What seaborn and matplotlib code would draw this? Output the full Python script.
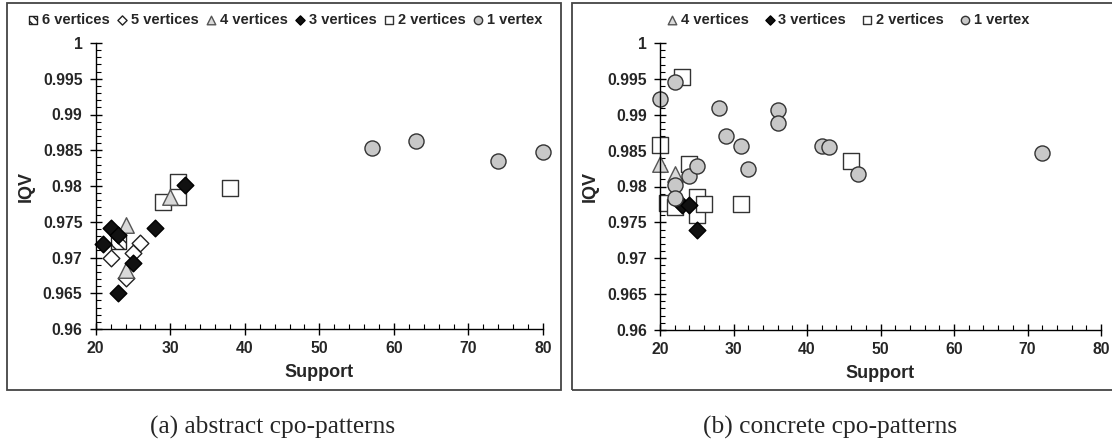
import numpy as np
import pandas as pd
import matplotlib
matplotlib.use("Agg")
import matplotlib.pyplot as plt
import matplotlib.ticker as mticker
from matplotlib.patches import Rectangle
import seaborn as sns

sns.set_style("white")
plt.rcParams["font.family"] = ["Liberation Sans", "DejaVu Sans"]
plt.rcParams["font.weight"] = "bold"
plt.rcParams["hatch.linewidth"] = 1.0

# ---------------- data: (a) abstract cpo-patterns ----------------
a_six_x = [23]
a_six_y = [0.9722]
a_five_x = [22, 24, 25, 26]
a_five_y = [0.9700, 0.9672, 0.9706, 0.9720]
a_four_x = [24, 24, 30]
a_four_y = [0.9745, 0.9682, 0.9785]
a_three_x = [21, 22, 23, 23, 25, 28, 32]
a_three_y = [0.9719, 0.9741, 0.9731, 0.9650, 0.9693, 0.9741, 0.9802]
a_two_x = [29, 31, 31, 38]
a_two_y = [0.9778, 0.9806, 0.9785, 0.9797]
a_one_x = [57, 63, 74, 80]
a_one_y = [0.9853, 0.9863, 0.9835, 0.9848]

# ---------------- data: (b) concrete cpo-patterns ----------------
b_four_x = [20, 22]
b_four_y = [0.9832, 0.9818]
b_three_x = [23, 24, 25]
b_three_y = [0.9774, 0.9774, 0.9740]
b_two_x = [20, 21, 22, 23, 24, 25, 25, 26, 31, 46]
b_two_y = [0.9858, 0.9777, 0.9772, 0.9952, 0.9832, 0.9786, 0.9760, 0.9775, 0.9775, 0.9835]
b_one_x = [20, 22, 22, 22, 24, 25, 28, 29, 31, 32, 36, 36, 42, 43, 47, 72]
b_one_y = [0.9922, 0.9946, 0.9802, 0.9784, 0.9815, 0.9828, 0.9910, 0.9871,
           0.9857, 0.9825, 0.9907, 0.9888, 0.9856, 0.9855, 0.9817, 0.9847]

labels = ["6 vertices", "5 vertices", "4 vertices", "3 vertices", "2 vertices", "1 vertex"]
captions = ["(a) abstract cpo-patterns", "(b) concrete cpo-patterns"]
x_ticks = [20, 30, 40, 50, 60, 70, 80]
y_ticks = [0.96, 0.965, 0.97, 0.975, 0.98, 0.985, 0.99, 0.995, 1.0]

styles = {
    "6 vertices": dict(marker="s", s=118, facecolor="white", edgecolor="#222222", hatch="\\\\\\\\", linewidth=1.0),
    "5 vertices": dict(marker="D", s=72, facecolor="white", edgecolor="#222222", linewidth=1.0),
    "4 vertices": dict(marker="^", s=125, facecolor="#d9d9d9", edgecolor="#555555", linewidth=1.0),
    "3 vertices": dict(marker="D", s=72, facecolor="#111111", edgecolor="#000000", linewidth=1.0),
    "2 vertices": dict(marker="s", s=118, facecolor="white", edgecolor="#333333", linewidth=1.0),
    "1 vertex": dict(marker="o", s=118, facecolor="#c8c8c8", edgecolor="#333333", linewidth=1.0),
}
draw_order = ["6 vertices", "5 vertices", "2 vertices", "4 vertices", "3 vertices", "1 vertex"]

panel_a = {
    "6 vertices": (a_six_x, a_six_y),
    "5 vertices": (a_five_x, a_five_y),
    "4 vertices": (a_four_x, a_four_y),
    "3 vertices": (a_three_x, a_three_y),
    "2 vertices": (a_two_x, a_two_y),
    "1 vertex": (a_one_x, a_one_y),
}
panel_b = {
    "4 vertices": (b_four_x, b_four_y),
    "3 vertices": (b_three_x, b_three_y),
    "2 vertices": (b_two_x, b_two_y),
    "1 vertex": (b_one_x, b_one_y),
}

W, H = 1112, 443
fig = plt.figure(figsize=(W / 100, H / 100), dpi=100)

def fx(px):
    return px / W

def fy(py):
    return 1 - py / H

# panel boxes
for (x0, x1) in [(7, 561), (572, 1118)]:
    fig.patches.append(Rectangle((fx(x0), fy(390)), fx(x1 - x0), (390 - 3) / H,
                                 transform=fig.transFigure, fill=False,
                                 edgecolor="#444444", linewidth=1.3))

ax_a = fig.add_axes([fx(95.7), fy(329), fx(543 - 95.7), (329 - 43) / H])
ax_b = fig.add_axes([fx(660), fy(330), fx(1101 - 660), (330 - 43) / H])

def style_axes(ax):
    ax.set_xlim(20, 80)
    ax.set_ylim(0.96, 1.0)
    ax.set_xticks(x_ticks)
    ax.set_yticks(y_ticks)
    ax.xaxis.set_minor_locator(mticker.MultipleLocator(2))
    ax.yaxis.set_minor_locator(mticker.MultipleLocator(0.001))
    ax.yaxis.set_major_formatter(mticker.FuncFormatter(lambda v, p: f"{v:g}"))
    for sp in ["top", "right"]:
        ax.spines[sp].set_visible(False)
    for sp in ["left", "bottom"]:
        ax.spines[sp].set_color("black")
        ax.spines[sp].set_linewidth(1.0)
    ax.tick_params(which="both", bottom=True, left=True, top=False, right=False)
    ax.tick_params(which="major", direction="inout", length=9, width=1.0,
                   labelsize=11.3, color="black", pad=4)
    ax.tick_params(which="minor", direction="in", length=3.5, width=0.8, color="black")
    ax.tick_params(axis="y", which="major", pad=5)
    ax.set_xlabel("Support", fontsize=13, fontweight="bold", labelpad=6)
    ax.set_ylabel("IQV", fontsize=13, fontweight="bold", labelpad=6)
    for t in ax.get_xticklabels() + ax.get_yticklabels():
        t.set_fontweight("bold")
    ax.set_facecolor("none")
    ax.grid(False)

for ax, data in [(ax_a, panel_a), (ax_b, panel_b)]:
    for lab in draw_order:
        if lab not in data:
            continue
        xs, ys = data[lab]
        df = pd.DataFrame({"Support": xs, "IQV": ys})
        st = styles[lab]
        sns.scatterplot(data=df, x="Support", y="IQV", ax=ax, label=lab,
                        marker=st["marker"], s=st["s"], color=st["facecolor"],
                        edgecolor=st["edgecolor"], linewidth=st["linewidth"],
                        hatch=st.get("hatch", None), clip_on=False, legend=False)
    style_axes(ax)

def add_legend(ax, data, cx, spacing):
    handles, labs = ax.get_legend_handles_labels()
    hl = dict(zip(labs, handles))
    order = [l for l in labels if l in data]
    leg = fig.legend([hl[l] for l in order], order, loc="center",
                     bbox_to_anchor=(fx(cx), fy(20)), ncol=len(order), frameon=False,
                     prop={"size": 10.5, "weight": "bold"}, markerscale=0.55,
                     handlelength=0.7, handletextpad=0.25, columnspacing=spacing,
                     borderaxespad=0, borderpad=0)
    return leg

add_legend(ax_a, panel_a, 285, 0.5)
add_legend(ax_b, panel_b, 848, 1.1)

fig.text(fx(273), fy(427), captions[0], ha="center", va="center",
         fontsize=18.3, family=["Liberation Serif", "DejaVu Serif"], fontweight="normal")
fig.text(fx(830), fy(427), captions[1], ha="center", va="center",
         fontsize=18.3, family=["Liberation Serif", "DejaVu Serif"], fontweight="normal")

fig.savefig("out.png", dpi=100)
